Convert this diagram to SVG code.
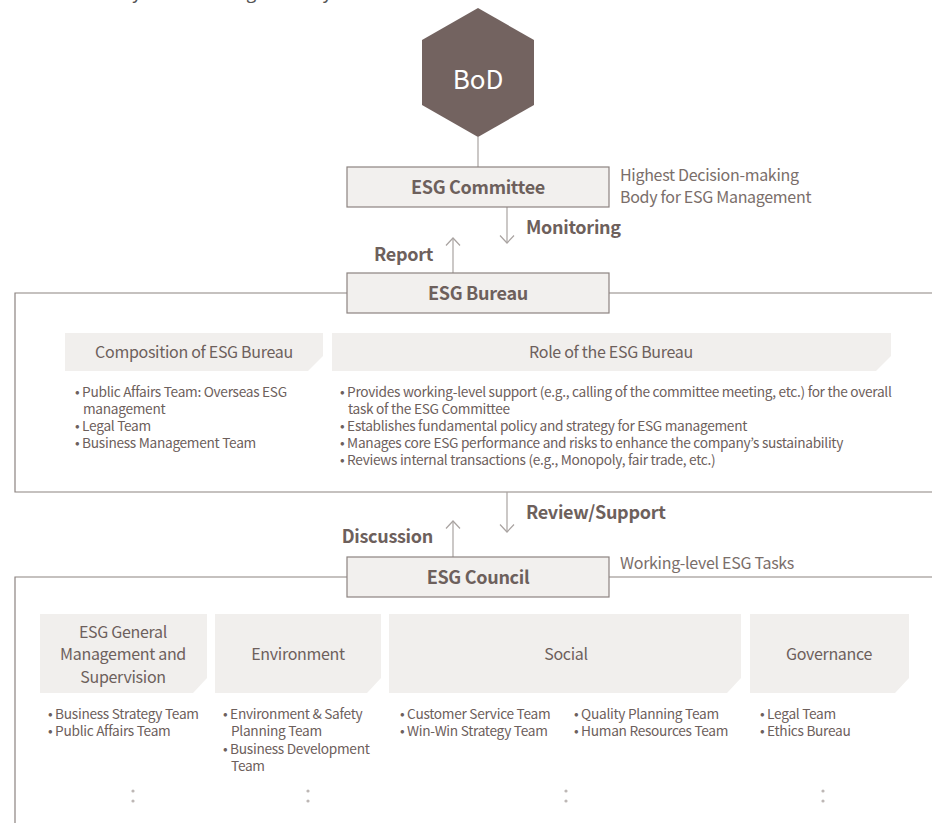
<svg xmlns="http://www.w3.org/2000/svg" width="932" height="823" viewBox="0 0 932 823">
<defs>
<style>
text{font-family:"Noto Sans CJK KR","Noto Sans",sans-serif;fill:#6d605c;letter-spacing:-0.3px}
.box{fill:#f2f0ee;stroke:#8c8380;stroke-width:1.2}
.hdr{fill:#f1efed}
.ln{stroke:#a9a3a1;stroke-width:1.2;fill:none}
.fr{stroke:#8c8380;stroke-width:1.2;fill:none}
.bt{font-size:18px;font-weight:700;text-anchor:middle}
.lb{font-size:18px;font-weight:700}
.ht{font-size:16px;text-anchor:middle}
.bl{font-size:13.7px}
.note{font-size:16px;fill:#7a6e6a}
.dot{fill:#bdb7b5}
</style>
<marker id="chev" viewBox="0 0 10 16" refX="8.5" refY="8" markerWidth="10" markerHeight="16" markerUnits="userSpaceOnUse" orient="auto">
<path d="M1,1 L8.5,8 L1,15" fill="none" stroke="#a9a3a1" stroke-width="1.2"/>
</marker>
</defs>

<text x="99" y="-1" style="font-size:18px;fill:#555">Body of ESG Management System</text>

<g id="frames">
<path class="fr" d="M347,293 H15 V492 H932 M609,293 H932"/>
<path class="fr" d="M347,577 H15 V823 M609,577 H932"/>
</g>

<g id="connectors">
<line class="ln" x1="478" y1="137" x2="478" y2="167"/>
<line class="ln" x1="507" y1="207" x2="507" y2="243" marker-end="url(#chev)"/>
<line class="ln" x1="453" y1="273" x2="453" y2="238" marker-end="url(#chev)"/>
<line class="ln" x1="507" y1="492" x2="507" y2="532" marker-end="url(#chev)"/>
<line class="ln" x1="453" y1="557" x2="453" y2="521" marker-end="url(#chev)"/>
<text class="lb" x="526" y="234">Monitoring</text>
<text class="lb" x="433" y="261" text-anchor="end">Report</text>
<text class="lb" x="526" y="519">Review/Support</text>
<text class="lb" x="433" y="543" text-anchor="end">Discussion</text>
</g>

<g id="bod">
<polygon points="478,8 534,40 534,105 478,137 422,105 422,40" fill="#736360"/>
<text x="478" y="89" style="font-size:26px;fill:#fff;text-anchor:middle;letter-spacing:0">BoD</text>
</g>

<g id="committee">
<rect class="box" x="347" y="167" width="262" height="40"/>
<text class="bt" x="478" y="194">ESG Committee</text>
<text class="note" x="620" y="181">Highest Decision-making<tspan x="620" dy="22">Body for ESG Management</tspan></text>
</g>

<g id="bureau">
<rect class="box" x="347" y="273" width="262" height="40"/>
<text class="bt" x="478" y="300">ESG Bureau</text>
</g>

<g id="composition">
<path class="hdr" d="M65,333 H323 V356 L308,371 H65 Z"/>
<text class="ht" x="194" y="358">Composition of ESG Bureau</text>
<text class="bl" x="75" y="397">• Public Affairs Team: Overseas ESG<tspan x="83" dy="17">management</tspan><tspan x="75" dy="17">• Legal Team</tspan><tspan x="75" dy="17">• Business Management Team</tspan></text>
</g>

<g id="role">
<path class="hdr" d="M332,333 H891 V356 L876,371 H332 Z"/>
<text class="ht" x="611" y="358">Role of the ESG Bureau</text>
<text class="bl" x="340" y="397">• Provides working-level support (e.g., calling of the committee meeting, etc.) for the overall<tspan x="348" dy="17">task of the ESG Committee</tspan><tspan x="340" dy="17">• Establishes fundamental policy and strategy for ESG management</tspan><tspan x="340" dy="17">• Manages core ESG performance and risks to enhance the company’s sustainability</tspan><tspan x="340" dy="17">• Reviews internal transactions (e.g., Monopoly, fair trade, etc.)</tspan></text>
</g>

<g id="council">
<rect class="box" x="347" y="557" width="262" height="40"/>
<text class="bt" x="478" y="584">ESG Council</text>
<text class="note" x="620" y="569">Working-level ESG Tasks</text>
</g>

<g id="general">
<path class="hdr" d="M40,614 H207 V678 L193,693 H40 Z"/>
<text class="ht" x="123" y="638">ESG General<tspan x="123" dy="22">Management and</tspan><tspan x="123" dy="23">Supervision</tspan></text>
<text class="bl" x="48" y="719">• Business Strategy Team<tspan x="48" dy="17">• Public Affairs Team</tspan></text>
<circle class="dot" cx="133" cy="791" r="1.6"/><circle class="dot" cx="133" cy="801" r="1.6"/>
</g>

<g id="environment">
<path class="hdr" d="M215,614 H381 V678 L367,693 H215 Z"/>
<text class="ht" x="298" y="660">Environment</text>
<text class="bl" x="223" y="719">• Environment &amp; Safety<tspan x="231" dy="17">Planning Team</tspan><tspan x="223" dy="18">• Business Development</tspan><tspan x="231" dy="17">Team</tspan></text>
<circle class="dot" cx="308" cy="791" r="1.6"/><circle class="dot" cx="308" cy="801" r="1.6"/>
</g>

<g id="social">
<path class="hdr" d="M389,614 H741 V678 L727,693 H389 Z"/>
<text class="ht" x="566" y="660">Social</text>
<text class="bl" x="400" y="719">• Customer Service Team<tspan x="400" dy="17">• Win-Win Strategy Team</tspan></text>
<text class="bl" x="574" y="719">• Quality Planning Team<tspan x="574" dy="17">• Human Resources Team</tspan></text>
<circle class="dot" cx="566" cy="791" r="1.6"/><circle class="dot" cx="566" cy="801" r="1.6"/>
</g>

<g id="governance">
<path class="hdr" d="M750,614 H909 V678 L895,693 H750 Z"/>
<text class="ht" x="829" y="660">Governance</text>
<text class="bl" x="760" y="719">• Legal Team<tspan x="760" dy="17">• Ethics Bureau</tspan></text>
<circle class="dot" cx="823" cy="791" r="1.6"/><circle class="dot" cx="823" cy="801" r="1.6"/>
</g>
</svg>
